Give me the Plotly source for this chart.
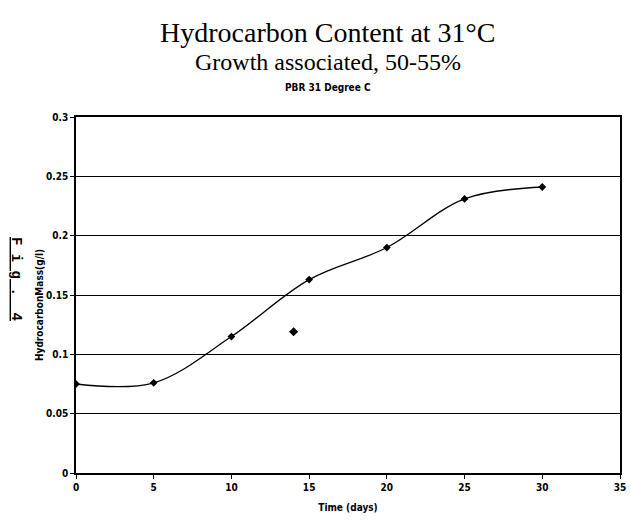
import plotly.graph_objects as go

days = [0, 5, 10, 15, 20, 25, 30]
mass = [0.075, 0.076, 0.115, 0.163, 0.190, 0.231, 0.241]
outlier_day = [14]
outlier_mass = [0.119]

x_ticks = [0, 5, 10, 15, 20, 25, 30, 35]
y_ticks = [0, 0.05, 0.1, 0.15, 0.2, 0.25, 0.3]
y_tick_labels = ["0", "0.05", "0.1", "0.15", "0.2", "0.25", "0.3"]

narrow = "DejaVu Sans Condensed, Liberation Sans Narrow, Arial Narrow, Liberation Sans, Arial"
serif = "Liberation Serif, Times New Roman, DejaVu Serif, serif"

fig = go.Figure()
fig.add_trace(go.Scatter(
    x=days, y=mass, mode="lines+markers",
    line=dict(color="black", width=1.3, shape="spline", smoothing=1),
    marker=dict(symbol="diamond", size=6, color="black"),
    showlegend=False,
))
fig.add_trace(go.Scatter(
    x=outlier_day, y=outlier_mass, mode="markers",
    marker=dict(symbol="diamond", size=7, color="black"),
    showlegend=False,
))

fig.update_layout(
    width=631, height=530,
    margin=dict(l=76, r=11, t=117, b=57, autoexpand=False),
    paper_bgcolor="white", plot_bgcolor="white",
    xaxis=dict(
        range=[0, 35], tickvals=x_ticks, ticktext=[str(v) for v in x_ticks],
        showgrid=False, zeroline=False, automargin=False,
        showline=True, linecolor="black", linewidth=1.5, mirror=True,
        ticks="outside", ticklen=4, tickcolor="black",
        tickfont=dict(family=narrow, size=10, color="black", weight="bold"),
        title=dict(text="<b>Time (days)</b>", font=dict(family=narrow, size=10, color="black"), standoff=12),
    ),
    yaxis=dict(
        range=[0, 0.3], tickvals=y_ticks, ticktext=y_tick_labels,
        showgrid=True, gridcolor="black", gridwidth=1, zeroline=False, automargin=False,
        showline=True, linecolor="black", linewidth=1.5, mirror=True,
        ticks="outside", ticklen=4, tickcolor="black",
        tickfont=dict(family=narrow, size=10, color="black", weight="bold"),
    ),
    annotations=[
        dict(text="Hydrocarbon Content at 31°C", xref="paper", yref="paper",
             x=0.463, y=1.0, yshift=85, showarrow=False, xanchor="center", yanchor="middle",
             font=dict(family=serif, size=28, color="black")),
        dict(text="Growth associated, 50-55%", xref="paper", yref="paper",
             x=0.463, y=1.0, yshift=55, showarrow=False, xanchor="center", yanchor="middle",
             font=dict(family=serif, size=24, color="black")),
        dict(text="<b>PBR 31 Degree C</b>", xref="paper", yref="paper",
             x=0.463, y=1.0, yshift=30, showarrow=False, xanchor="center", yanchor="middle",
             font=dict(family=narrow, size=10, color="black")),
        dict(text="<b>HydrocarbonMass(g/l)</b>", xref="paper", yref="paper",
             x=0, xshift=-36, y=0.472, showarrow=False, textangle=-90,
             xanchor="center", yanchor="middle",
             font=dict(family=narrow, size=10, color="black")),
        dict(text="<b><u>F i g .  4</u></b>", xref="paper", yref="paper",
             x=0, xshift=-60, y=0.5, yshift=16, showarrow=False, textangle=90,
             xanchor="center", yanchor="middle",
             font=dict(family="Liberation Mono, Courier New, monospace", size=14, color="black")),
    ],
)

fig.write_html("out.html")
